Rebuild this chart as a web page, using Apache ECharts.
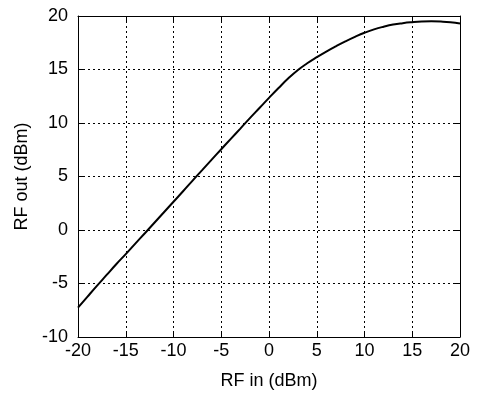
<!DOCTYPE html>
<html>
<head>
<meta charset="utf-8">
<script src="https://cdn.jsdelivr.net/npm/echarts@6/dist/echarts.min.js"></script>
<style>
  html, body { margin: 0; padding: 0; background: #fff; }
  #chart { width: 478px; height: 395px; }
</style>
</head>
<body>
<div id="chart"></div>
<script>
// RF input power (dBm)
const rfIn = [
  -20, -19, -18, -17, -16, -15, -14, -13, -12, -11,
  -10, -9, -8, -7, -6, -5, -4, -3, -2, -1,
  0, 1, 2, 3, 4, 5, 6, 7, 8, 9,
  10, 11, 12, 13, 14, 15, 16, 17, 18, 19, 20
];
// RF output power (dBm)
const rfOut = [
  -7.25, -6.22, -5.2, -4.2, -3.2, -2.25, -1.27, -0.3, 0.68, 1.66,
  2.64, 3.62, 4.62, 5.6, 6.58, 7.55, 8.52, 9.48, 10.45, 11.4,
  12.35, 13.27, 14.15, 14.93, 15.58, 16.15, 16.68, 17.17, 17.63, 18.05,
  18.43, 18.75, 19.0, 19.2, 19.33, 19.42, 19.48, 19.5, 19.48, 19.42, 19.3
];
const xTicks = { min: -20, max: 20, step: 5 };
const yTicks = { min: -10, max: 20, step: 5 };

const points = rfIn.map((x, i) => [x, rfOut[i]]);

const font = 'Liberation Sans, Arial, sans-serif';
const gridDots = { color: '#000', width: 1, type: [2, 3] };
const frame = { color: '#000', width: 1 };

const chart = echarts.init(document.getElementById('chart'), null, { renderer: 'canvas' });

chart.setOption({
  animation: false,
  backgroundColor: '#fff',
  grid: { left: 78, right: 18, top: 16, bottom: 58, containLabel: false },
  xAxis: [
    {
      type: 'value',
      position: 'bottom',
      min: xTicks.min, max: xTicks.max, interval: xTicks.step,
      name: 'RF in (dBm)',
      nameLocation: 'middle',
      nameGap: 35,
      nameTextStyle: { color: '#000', fontSize: 18, fontFamily: font },
      axisLine: { show: true, onZero: false, lineStyle: frame },
      axisTick: { show: true, inside: true, length: 5, lineStyle: frame },
      axisLabel: { color: '#000', fontSize: 18, fontFamily: font, margin: 5 },
      splitLine: { show: true, lineStyle: gridDots }
    },
    {
      type: 'value',
      position: 'top',
      min: xTicks.min, max: xTicks.max, interval: xTicks.step,
      axisLine: { show: true, onZero: false, lineStyle: frame },
      axisTick: { show: true, inside: true, length: 5, lineStyle: frame },
      axisLabel: { show: false },
      splitLine: { show: false }
    }
  ],
  yAxis: [
    {
      type: 'value',
      position: 'left',
      min: yTicks.min, max: yTicks.max, interval: yTicks.step,
      name: 'RF out (dBm)',
      nameLocation: 'middle',
      nameGap: 44,
      nameTextStyle: { color: '#000', fontSize: 18, fontFamily: font },
      axisLine: { show: true, onZero: false, lineStyle: frame },
      axisTick: { show: true, inside: true, length: 5, lineStyle: frame },
      axisLabel: { color: '#000', fontSize: 18, fontFamily: font, margin: 10 },
      splitLine: { show: true, lineStyle: gridDots }
    },
    {
      type: 'value',
      position: 'right',
      min: yTicks.min, max: yTicks.max, interval: yTicks.step,
      axisLine: { show: true, onZero: false, lineStyle: frame },
      axisTick: { show: true, inside: true, length: 5, lineStyle: frame },
      axisLabel: { show: false },
      splitLine: { show: false }
    }
  ],
  series: [
    {
      type: 'line',
      data: points,
      smooth: true,
      showSymbol: false,
      lineStyle: { color: '#000', width: 2 },
      z: 5
    }
  ]
});
</script>
</body>
</html>
